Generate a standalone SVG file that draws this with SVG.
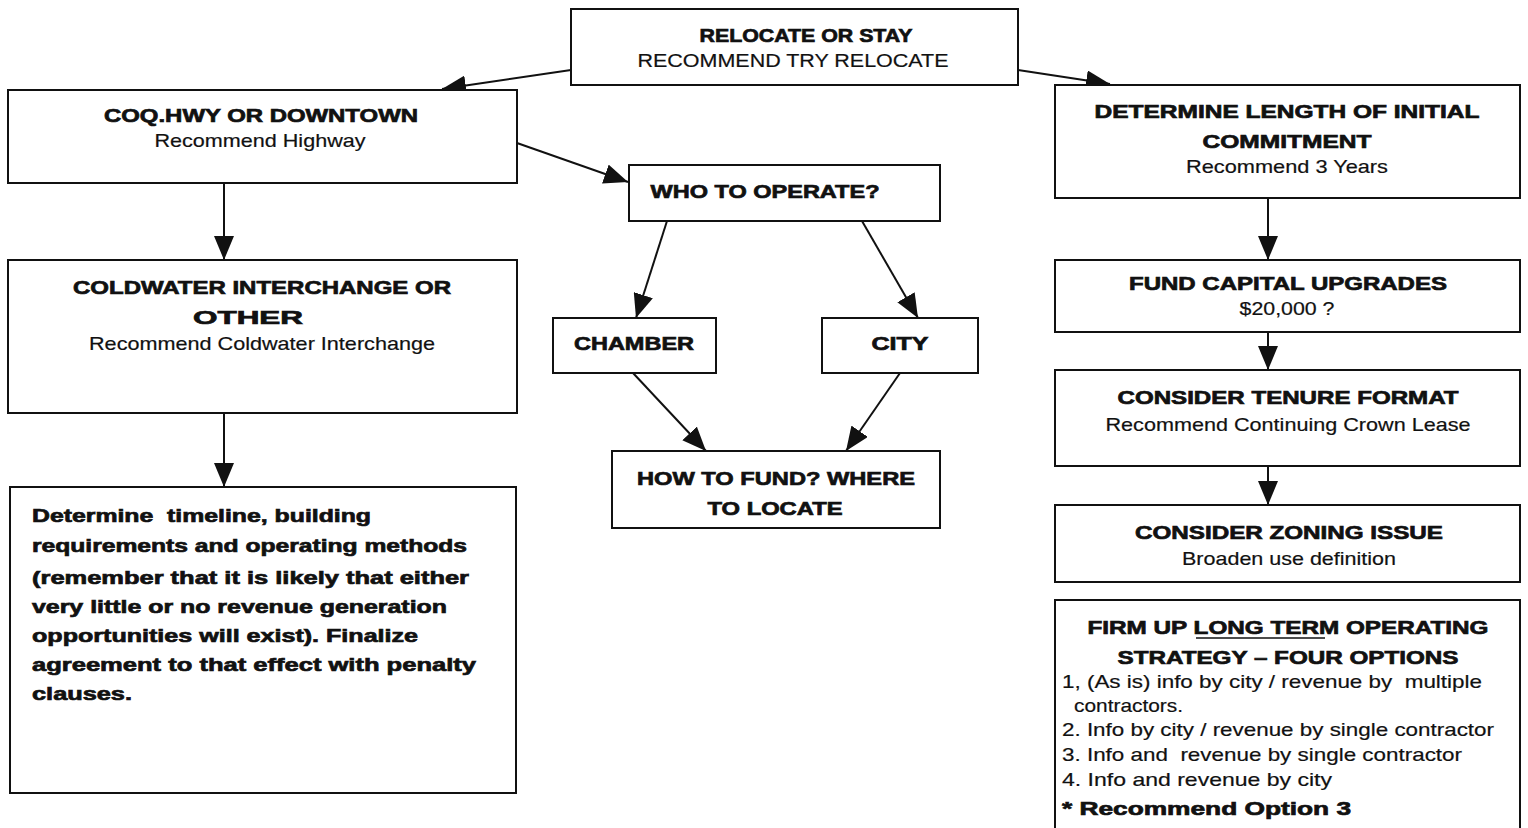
<svg xmlns="http://www.w3.org/2000/svg" width="1528" height="828" viewBox="0 0 1528 828">
<style>
.box{fill:#fff;stroke:#111;stroke-width:2}
.t{font-family:"Liberation Sans",Arial,sans-serif;font-weight:bold;font-size:19px;fill:#111;stroke:#111;stroke-width:0.7;text-anchor:middle;white-space:pre}
.s{font-family:"Liberation Sans",Arial,sans-serif;font-size:19px;fill:#111;stroke:#111;stroke-width:0.2;text-anchor:middle;white-space:pre}
.l{text-anchor:start}
.c{stroke:#111;stroke-width:2;fill:none;marker-end:url(#ah)}
</style>
<defs>
<marker id="ah" viewBox="0 0 24 20" refX="24" refY="10" markerWidth="24" markerHeight="20" markerUnits="userSpaceOnUse" orient="auto">
<path d="M0,0 L24,10 L0,20 Z" fill="#111"/>
</marker>
</defs>
<rect width="1528" height="828" fill="#fff"/>
<g id="connectors">
<line class="c" x1="571" y1="70" x2="442" y2="89"/>
<line class="c" x1="1018" y1="70" x2="1110" y2="84"/>
<line class="c" x1="517" y1="143" x2="628" y2="182"/>
<line class="c" x1="224" y1="183" x2="224" y2="260"/>
<line class="c" x1="224" y1="413" x2="224" y2="487"/>
<line class="c" x1="667" y1="221" x2="636" y2="318"/>
<line class="c" x1="862" y1="221" x2="918" y2="318"/>
<line class="c" x1="633" y1="373" x2="706" y2="451"/>
<line class="c" x1="900" y1="373" x2="846" y2="451"/>
<line class="c" x1="1268" y1="198" x2="1268" y2="260"/>
<line class="c" x1="1268" y1="332" x2="1268" y2="370"/>
<line class="c" x1="1268" y1="466" x2="1268" y2="505"/>
</g>
<g id="relocate">
<rect class="box" x="571" y="9" width="447" height="76"/>
<text class="t" x="806" y="42" textLength="213" lengthAdjust="spacingAndGlyphs">RELOCATE OR STAY</text>
<text class="s" x="793" y="67" textLength="311" lengthAdjust="spacingAndGlyphs">RECOMMEND TRY RELOCATE</text>
</g>
<g id="coq">
<rect class="box" x="8" y="90" width="509" height="93"/>
<text class="t" x="261" y="122" textLength="314" lengthAdjust="spacingAndGlyphs">COQ.HWY OR DOWNTOWN</text>
<text class="s" x="260" y="147" textLength="211" lengthAdjust="spacingAndGlyphs">Recommend Highway</text>
</g>
<g id="coldwater">
<rect class="box" x="8" y="260" width="509" height="153"/>
<text class="t" x="262" y="294" textLength="378" lengthAdjust="spacingAndGlyphs">COLDWATER INTERCHANGE OR</text>
<text class="t" x="248" y="324" textLength="110" lengthAdjust="spacingAndGlyphs">OTHER</text>
<text class="s" x="262" y="350" textLength="346" lengthAdjust="spacingAndGlyphs">Recommend Coldwater Interchange</text>
</g>
<g id="determine">
<rect class="box" x="10" y="487" width="506" height="306"/>
<text class="t l" x="32" y="522" textLength="339" lengthAdjust="spacingAndGlyphs">Determine  timeline, building</text>
<text class="t l" x="32" y="552" textLength="435" lengthAdjust="spacingAndGlyphs">requirements and operating methods</text>
<text class="t l" x="32" y="584" textLength="437" lengthAdjust="spacingAndGlyphs">(remember that it is likely that either</text>
<text class="t l" x="32" y="613" textLength="415" lengthAdjust="spacingAndGlyphs">very little or no revenue generation</text>
<text class="t l" x="32" y="642" textLength="386" lengthAdjust="spacingAndGlyphs">opportunities will exist). Finalize</text>
<text class="t l" x="32" y="671" textLength="444" lengthAdjust="spacingAndGlyphs">agreement to that effect with penalty</text>
<text class="t l" x="32" y="700" textLength="100" lengthAdjust="spacingAndGlyphs">clauses.</text>
</g>
<g id="who">
<rect class="box" x="629" y="165" width="311" height="56"/>
<text class="t" x="765" y="198" textLength="229" lengthAdjust="spacingAndGlyphs">WHO TO OPERATE?</text>
</g>
<g id="chamber">
<rect class="box" x="553" y="318" width="163" height="55"/>
<text class="t" x="634" y="350" textLength="120" lengthAdjust="spacingAndGlyphs">CHAMBER</text>
</g>
<g id="city">
<rect class="box" x="822" y="318" width="156" height="55"/>
<text class="t" x="900" y="350" textLength="57" lengthAdjust="spacingAndGlyphs">CITY</text>
</g>
<g id="howfund">
<rect class="box" x="612" y="451" width="328" height="77"/>
<text class="t" x="776" y="485" textLength="278" lengthAdjust="spacingAndGlyphs">HOW TO FUND? WHERE</text>
<text class="t" x="775" y="515" textLength="135" lengthAdjust="spacingAndGlyphs">TO LOCATE</text>
</g>
<g id="length">
<rect class="box" x="1055" y="85" width="465" height="113"/>
<text class="t" x="1287" y="118" textLength="385" lengthAdjust="spacingAndGlyphs">DETERMINE LENGTH OF INITIAL</text>
<text class="t" x="1287" y="148" textLength="169" lengthAdjust="spacingAndGlyphs">COMMITMENT</text>
<text class="s" x="1287" y="173" textLength="202" lengthAdjust="spacingAndGlyphs">Recommend 3 Years</text>
</g>
<g id="capital">
<rect class="box" x="1055" y="260" width="465" height="72"/>
<text class="t" x="1288" y="290" textLength="318" lengthAdjust="spacingAndGlyphs">FUND CAPITAL UPGRADES</text>
<text class="s" x="1287" y="315" textLength="95" lengthAdjust="spacingAndGlyphs">$20,000 ?</text>
</g>
<g id="tenure">
<rect class="box" x="1055" y="370" width="465" height="96"/>
<text class="t" x="1288" y="404" textLength="341" lengthAdjust="spacingAndGlyphs">CONSIDER TENURE FORMAT</text>
<text class="s" x="1288" y="431" textLength="365" lengthAdjust="spacingAndGlyphs">Recommend Continuing Crown Lease</text>
</g>
<g id="zoning">
<rect class="box" x="1055" y="505" width="465" height="77"/>
<text class="t" x="1289" y="539" textLength="308" lengthAdjust="spacingAndGlyphs">CONSIDER ZONING ISSUE</text>
<text class="s" x="1289" y="565" textLength="214" lengthAdjust="spacingAndGlyphs">Broaden use definition</text>
</g>
<g id="firmup">
<rect class="box" x="1055" y="600" width="465" height="240"/>
<text class="t" x="1288" y="634" textLength="401" lengthAdjust="spacingAndGlyphs">FIRM UP LONG TERM OPERATING</text>
<line x1="1196" y1="638" x2="1325" y2="638" stroke="#111" stroke-width="1.5"/>
<text class="t" x="1288" y="664" textLength="341" lengthAdjust="spacingAndGlyphs">STRATEGY – FOUR OPTIONS</text>
<text class="s l" x="1062" y="688" textLength="420" lengthAdjust="spacingAndGlyphs">1, (As is) info by city / revenue by  multiple</text>
<text class="s l" x="1074" y="712" textLength="109" lengthAdjust="spacingAndGlyphs">contractors.</text>
<text class="s l" x="1062" y="736" textLength="432" lengthAdjust="spacingAndGlyphs">2. Info by city / revenue by single contractor</text>
<text class="s l" x="1062" y="761" textLength="400" lengthAdjust="spacingAndGlyphs">3. Info and  revenue by single contractor</text>
<text class="s l" x="1062" y="786" textLength="270" lengthAdjust="spacingAndGlyphs">4. Info and revenue by city</text>
<text class="t l" x="1062" y="815" textLength="289" lengthAdjust="spacingAndGlyphs">* Recommend Option 3</text>
</g>
</svg>
